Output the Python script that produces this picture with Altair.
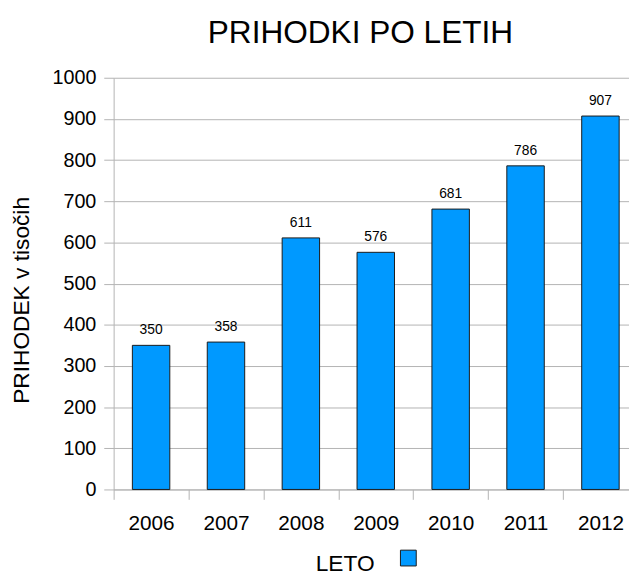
import altair as alt
import pandas as pd

years = ["2006", "2007", "2008", "2009", "2010", "2011", "2012"]
values = [350, 358, 611, 576, 681, 786, 907]
series = ["PRIHODEK"] * len(years)

df = pd.DataFrame({"LETO": years, "PRIHODEK": values, "series": series})

FONT = "Liberation Sans"
GRID = "#b3b3b3"

x = alt.X(
    "LETO:N",
    sort=years,
    scale=alt.Scale(range=[0, 531], paddingInner=0, paddingOuter=0),
    axis=alt.Axis(
        title="LETO",
        labelAngle=0,
        labelFontSize=21,
        labelPadding=14,
        labelColor="black",
        tickSize=10,
        tickColor=GRID,
        tickBand="extent",
        domainColor=GRID,
        grid=False,
        titleFontSize=23,
        titleFontWeight="normal",
        titleColor="black",
        titleX=234,
        titleY=82,
        titleAlign="center",
        titleBaseline="alphabetic",
    ),
)
y = alt.Y(
    "PRIHODEK:Q",
    scale=alt.Scale(domain=[0, 1000]),
    axis=alt.Axis(
        title="PRIHODEK v tisočih",
        values=list(range(0, 1001, 100)),
        format="d",
        labelFontSize=20,
        labelPadding=8,
        labelColor="black",
        tickSize=10,
        tickColor=GRID,
        domainColor=GRID,
        gridColor=GRID,
        titleFontSize=23,
        titleFontWeight="normal",
        titleColor="black",
        titleAngle=270,
        titleX=-86,
        titleY=225,
        titleAlign="center",
        titleBaseline="alphabetic",
    ),
)

bars = alt.Chart(df).mark_bar(
    stroke="#1a1a1a", strokeWidth=1, width=alt.RelativeBandSize(0.5)
).encode(
    x=x,
    y=y,
    color=alt.Color(
        "series:N",
        scale=alt.Scale(range=["#0099ff"]),
        legend=alt.Legend(
            orient="none",
            legendX=290,
            legendY=478,
            padding=0,
            title=None,
            symbolType="square",
            symbolSize=256,
            symbolStrokeColor="#1a1a1a",
            symbolStrokeWidth=1,
            labelExpr="''",
        ),
    ),
)

labels = alt.Chart(df).mark_text(
    baseline="alphabetic", dy=-11, fontSize=14, font=FONT, color="black"
).encode(x=alt.X("LETO:N", sort=years), y="PRIHODEK:Q", text="PRIHODEK:Q")

chart = (
    alt.layer(bars, labels)
    .properties(
        width=522,
        height=417,
        autosize=alt.AutoSizeParams(type="none"),
        padding={"left": 107, "top": 67, "right": 0, "bottom": 83},
        title=alt.TitleParams(
            "PRIHODKI PO LETIH",
            fontSize=32,
            font=FONT,
            fontWeight="normal",
            color="black",
            anchor="middle",
            dx=-11,
            dy=-14,
        ),
    )
    .configure(font=FONT)
    .configure_view(stroke=None)
)

chart.save("out.html", embed_options={"renderer": "svg", "actions": False})
